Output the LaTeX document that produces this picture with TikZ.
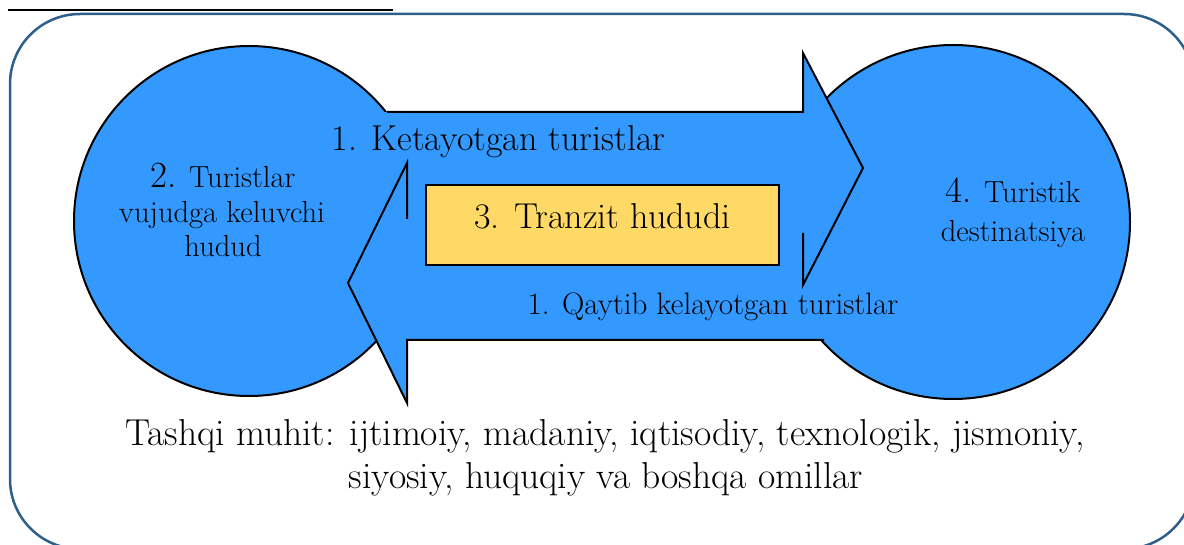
\documentclass[tikz,border=0pt]{standalone}
\definecolor{blobblue}{HTML}{3399FF}
\definecolor{boxyellow}{HTML}{FFD966}
\definecolor{frameblue}{HTML}{2E5F8A}
\tikzset{
  region/.style={circle, draw=black, line width=2pt, fill=blobblue, minimum size=#1, inner sep=0pt},
  arrowline/.style={draw=black, line width=2pt, line join=miter},
  bigtxt/.style={font=\fontsize{36}{43}\selectfont, inner sep=0pt, anchor=base},
  envtxt/.style={font=\fontsize{37.5}{45}\selectfont, inner sep=0pt, anchor=base},
  midtxt/.style={font=\fontsize{31}{37}\selectfont, inner sep=0pt, anchor=base},
  smalltxt/.style={font=\fontsize{30.5}{36}\selectfont, inner sep=0pt, anchor=base},
}
\newcommand{\bignum}[1]{{\fontsize{37}{44}\selectfont #1}}
\begin{document}
\begin{tikzpicture}[x=1pt,y=-1pt]
\useasboundingbox (0,0) rectangle (1184,545);
\clip (0,0) rectangle (1184,545);
% top rule
\coordinate (ruleL) at (8,10);
\coordinate (ruleR) at (393,10);
\draw[line width=2pt] (ruleL) -- (ruleR);
% frame
\draw[frameblue, line width=2.5pt, rounded corners=70pt] (10,14) rectangle (1194,549);
% circles
\node[region=350pt] (origin) at (249,221) {};
\node[region=354pt] (dest) at (953,222) {};
% arrow fills
\fill[blobblue] (300,112) -- (803,112) -- (803,53) -- (863,168) -- (803,285) -- (803,233) -- (300,233) -- cycle;
\fill[blobblue] (407,219) -- (407,163) -- (348,283) -- (407,403) -- (407,340) -- (880,340) -- (880,219) -- cycle;
% arrow outlines
\coordinate (outStart) at (387,112);
\coordinate (outTip) at (863,168);
\draw[arrowline] (outStart) -- (803,112) -- (803,53) -- (outTip) -- (803,285) -- (803,233);
\coordinate (retTip) at (348,283);
\coordinate (retEnd) at (824,340);
\draw[arrowline] (407,219) -- (407,163) -- (retTip) -- (407,403) -- (407,340) -- (retEnd);
% transit box
\node[draw=black, line width=1.5pt, fill=boxyellow, minimum width=353pt, minimum height=80pt, inner sep=0pt] (transit) at (602.5,225) {};
\node[bigtxt] (transitTxt) at (602.5,229) {3. Tranzit hududi};
% labels
\node[bigtxt] (outTxt) at (498.5,151) {1. Ketayotgan turistlar};
\node[midtxt] (retTxt) at (713,315) {1. Qaytib kelayotgan turistlar};
\node[smalltxt] (orig1) at (223,188) {\bignum{2.} Turistlar};
\node[smalltxt] (orig2) at (222,223) {vujudga keluvchi};
\node[smalltxt] (orig3) at (223,257) {hudud};
\node[smalltxt] (dest1) at (1013,203) {\bignum{4.} Turistik};
\node[smalltxt] (dest2) at (1013,242) {destinatsiya};
\node[envtxt] (env1) at (605,445) {Tashqi muhit: ijtimoiy, madaniy, iqtisodiy, texnologik, jismoniy,};
\node[envtxt] (env2) at (606,488) {siyosiy, huquqiy va boshqa omillar};
\end{tikzpicture}
\end{document}
